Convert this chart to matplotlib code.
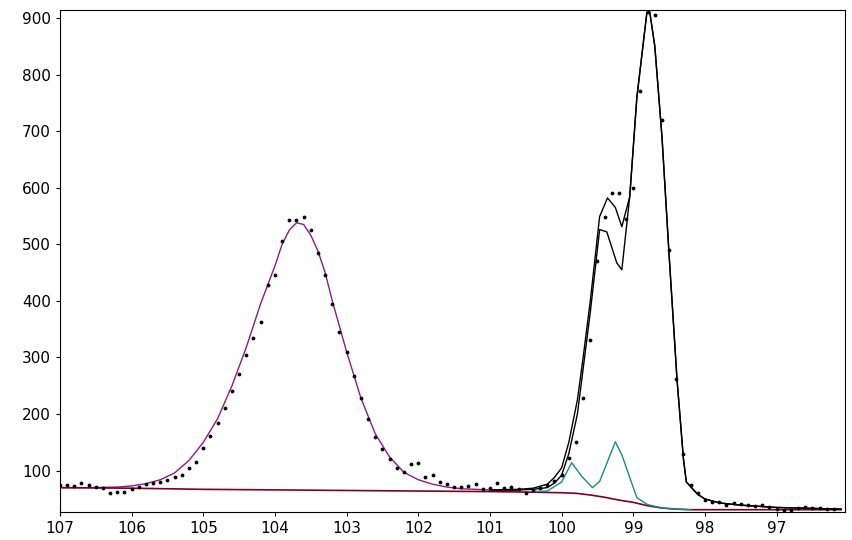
import matplotlib.pyplot as plt

# binding energy (eV) of measured points, 0.1 eV step
pts_x = [round(107.0 - 0.1 * i, 1) for i in range(109)]
pts_y = [74, 74, 73, 78, 74, 71, 69, 60, 62, 62, 68, 72, 76, 78, 80, 84, 88, 93, 104, 116,
         140, 162, 185, 210, 240, 270, 305, 335, 362, 428, 445, 505, 543, 543, 548, 525, 485, 445, 395, 345,
         310, 268, 228, 192, 160, 138, 120, 105, 98, 112, 113, 88, 92, 80, 77, 72, 71, 73, 76, 68,
         70, 78, 70, 72, 68, 60, 66, 70, 75, 82, 93, 122, 150, 228, 330, 470, 548, 590, 590, 545,
         600, 770, 910, 905, 720, 490, 262, 130, 75, 60, 48, 45, 44, 40, 43, 41, 40, 38, 39, 36,
         33, 30, 30, 34, 35, 34, 34, 33, 33]

# oxide component (purple)
ox_x = [107.0, 106.6, 106.2, 106.0, 105.8, 105.6, 105.4, 105.2, 105.0, 104.8, 104.6, 104.4, 104.2, 104.0,
        103.9, 103.8, 103.7, 103.6, 103.5, 103.4, 103.3, 103.2, 103.0, 102.8, 102.6, 102.4, 102.2, 102.0,
        101.8, 101.6, 101.4, 101.0, 100.6]
ox_y = [70, 70, 71, 73, 77, 84, 96, 118, 150, 192, 250, 318, 395, 462,
        500, 525, 538, 535, 516, 488, 450, 400, 310, 228, 165, 124, 97, 84,
        76, 71, 68, 66, 65]

# background (dark red)
bg_x = [107.0, 106.0, 105.0, 104.0, 103.0, 102.0, 101.0, 100.4, 100.0, 99.8, 99.6, 99.4, 99.2, 99.0,
        98.8, 98.6, 98.4, 98.2, 97.0, 96.1]
bg_y = [70, 69, 67, 66, 65, 64, 63, 62, 61, 60, 57, 53, 48, 44, 38, 34, 32, 31, 31, 31]

# envelope (black)
env_x = [101.0, 100.6, 100.4, 100.2, 100.1, 100.0, 99.9, 99.78, 99.7, 99.6, 99.47, 99.36, 99.25, 99.16,
         99.05, 98.95, 98.81, 98.77, 98.7, 98.6, 98.5, 98.39, 98.3, 98.26, 98.1, 98.0, 97.8, 97.5, 97.0, 96.1]
env_y = [66, 67, 69, 76, 88, 105, 150, 225, 300, 400, 549, 582, 565, 531,
         584, 760, 910, 910, 850, 690, 480, 261, 120, 80, 58, 50, 43, 39, 35, 32]

# second black curve
fit_x = [101.0, 100.6, 100.4, 100.2, 100.1, 100.0, 99.9, 99.78, 99.7, 99.6, 99.47, 99.37, 99.23, 99.16,
         99.05, 98.95, 98.81, 98.77, 98.7, 98.6, 98.5, 98.39, 98.3, 98.26, 98.1, 98.0, 97.8, 97.5, 97.0, 96.1]
fit_y = [66, 66, 67, 70, 78, 92, 130, 200, 280, 380, 526, 522, 467, 455,
         584, 760, 910, 910, 850, 690, 480, 261, 120, 80, 58, 50, 43, 39, 35, 32]

# sub-oxide component (teal)
sub_x = [100.4, 100.2, 100.0, 99.86, 99.72, 99.57, 99.47, 99.25, 99.16, 98.95, 98.8, 98.6, 98.4, 98.2]
sub_y = [63, 64, 80, 114, 90, 70, 81, 151, 128, 52, 40, 34, 32, 31]

fig = plt.figure(figsize=(8.53, 5.4), dpi=100)
ax = fig.add_axes([0.0703, 0.0519, 0.920, 0.9296])

ax.plot(ox_x, ox_y, color='#8b1a8b', lw=1)
ax.plot(bg_x, bg_y, color='#800020', lw=1.2)
ax.plot(sub_x, sub_y, color='#1a8a8a', lw=1)
ax.plot(fit_x, fit_y, color='black', lw=1)
ax.plot(env_x, env_y, color='black', lw=1)
ax.scatter(pts_x, pts_y, s=3, color='black', zorder=5)

ax.set_xlim(107, 96.05)
ax.set_ylim(27, 914)
ax.set_xticks([107, 106, 105, 104, 103, 102, 101, 100, 99, 98, 97])
ax.set_yticks([100, 200, 300, 400, 500, 600, 700, 800, 900])
ax.tick_params(labelsize=11, length=3)
for s in ax.spines.values():
    s.set_linewidth(0.8)

fig.savefig('out.png', dpi=100)
